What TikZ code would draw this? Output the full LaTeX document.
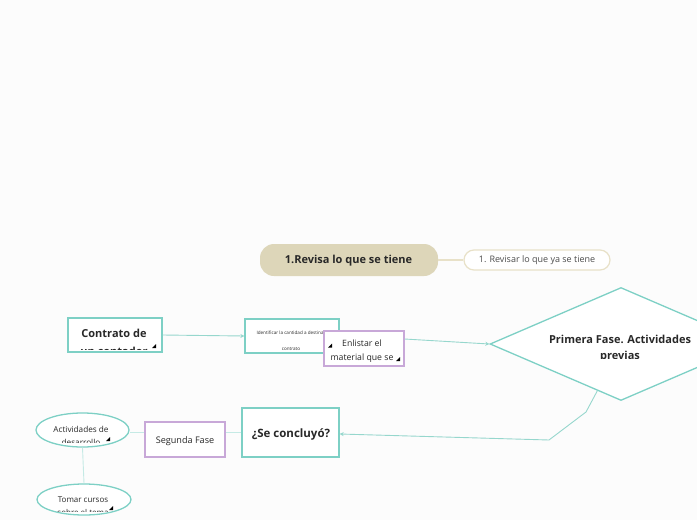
\documentclass[tikz,border=0pt]{standalone}
\usepackage{fontspec}
\setmainfont{Open Sans}
\usetikzlibrary{shapes.geometric,arrows.meta,calc}
\definecolor{tealc}{RGB}{125,208,197}
\definecolor{tealln}{RGB}{150,215,205}
\definecolor{purp}{RGB}{200,168,216}
\definecolor{beige}{RGB}{221,214,185}
\definecolor{beigeln}{RGB}{232,225,200}
\definecolor{bg}{RGB}{252,252,252}
\definecolor{txt}{RGB}{40,40,40}
\tikzset{
  boxt/.style={draw=tealc, line width=1.3pt, fill=white, rectangle, inner sep=0pt},
  boxp/.style={draw=purp, line width=1.3pt, fill=white, rectangle, inner sep=0pt},
  ell/.style={draw=tealc, line width=1.3pt, fill=white, ellipse, inner sep=0pt},
  lbl/.style={text=txt, align=center, inner sep=0pt},
  conn/.style={draw=tealln, line width=0.9pt},
  arr/.style={conn, -{Stealth[length=4pt,width=4pt]}},
  trimark/.style={fill=black},
}
\begin{document}
\begin{tikzpicture}[x=1pt,y=-1pt]
\useasboundingbox (0,0) rectangle (697,520);
\clip (0,0) rectangle (697,520);
\fill[bg] (0,0) rectangle (697,520);

% top nodes
\node[fill=beige, rounded corners=14pt, minimum width=178pt, minimum height=32pt, inner sep=0pt] (revisa) at (349,260) {};
\node[lbl, font=\bfseries\fontsize{11}{13}\selectfont] (revisaT) at (348.5,261) {1.Revisa lo que se tiene};
\node[draw=beigeln, line width=1.2pt, fill=white, rounded corners=10pt, minimum width=146pt, minimum height=20pt, inner sep=0pt] (revisar) at (537,260) {};
\node[lbl, font=\fontsize{9}{11}\selectfont, text=black!70] (revisarT) at (537,260.5) {1. Revisar lo que ya se tiene};
\draw[draw=beigeln, line width=1.2pt] (revisa.east) -- (revisar.west);

% diamond
\node[draw=tealc, line width=1.3pt, fill=white, diamond, aspect=2.32, minimum width=262pt, minimum height=113pt, inner sep=0pt] (fase1) at (621,344) {};
\begin{scope}
\clip (540,326) rectangle (697,358);
\node[lbl, font=\bfseries\fontsize{11}{16}\selectfont, anchor=north] (fase1T) at (620,334.5) {Primera Fase. Actividades\\previas};
\end{scope}

% contrato
\node[boxt, minimum width=94pt, minimum height=34pt] (contrato) at (115,335) {};
\begin{scope}
\clip (70,320) rectangle (160,349);
\node[lbl, font=\bfseries\fontsize{11}{18}\selectfont, anchor=north] (contratoT) at (114,328.5) {Contrato de\\un contador};
\end{scope}
\fill[trimark] (152,348) -- (156,348) -- (156,344) -- cycle;

% identificar
\node[boxt, minimum width=94pt, minimum height=34pt] (ident) at (292,336) {};
\begin{scope}
\clip (247,321) rectangle (337,351);
\node[lbl, font=\fontsize{4.6}{16}\selectfont, anchor=north] (identT) at (291,330.5) {Identificar la cantidad a destinar\\contrato};
\end{scope}
\draw[arr] (contrato.east) -- (ident.west);

% enlistar
\node[boxp, minimum width=80pt, minimum height=35pt] (enlistar) at (364,348.5) {};
\begin{scope}
\clip (326,333) rectangle (402,361.5);
\node[lbl, font=\fontsize{8.7}{14}\selectfont, anchor=north] (enlistarT) at (362,339.5) {Enlistar el\\material que se};
\end{scope}
\fill[trimark] (328,347.5) -- (332,347.5) -- (332,343.5) -- cycle;
\fill[trimark] (396,361) -- (400,361) -- (400,357) -- cycle;
\draw[arr] (enlistar.east |- 0,339) -- (fase1.west);

% se concluyo
\node[boxt, minimum width=97pt, minimum height=49pt] (concl) at (290.5,432.5) {};
\node[lbl, font=\bfseries\fontsize{11.5}{13}\selectfont] (conclT) at (291,434) {¿Se concluyó?};
\coordinate (k1) at ($(fase1.south)!0.18!(fase1.west)$);
\coordinate (k2) at (586,412);
\coordinate (k3) at (549,440);
\draw[arr] (k1) -- (k2) -- (k3) -- (concl.east |- 0,434);

% segunda fase
\node[boxp, minimum width=80pt, minimum height=35pt] (segunda) at (185,439.5) {};
\node[lbl, font=\fontsize{9.1}{11}\selectfont] (segundaT) at (185,441) {Segunda Fase};
\draw[conn, draw=tealc!45] (concl.west |- 0,432) -- (segunda.east |- 0,432);

% actividades
\node[ell, minimum width=93pt, minimum height=34pt] (activ) at (82.5,430) {};
\begin{scope}
\clip (36,417) rectangle (129,442);
\node[lbl, font=\fontsize{8.2}{13}\selectfont, anchor=north] (activT) at (81,426.5) {Actividades de\\desarrollo};
\end{scope}
\fill[trimark] (106,441) -- (110,441) -- (110,437) -- cycle;
\draw[conn, draw=tealc!45] (segunda.west |- 0,432) -- (activ.east |- 0,432);

% tomar cursos
\node[ell, minimum width=94pt, minimum height=31pt] (tomar) at (84,499.5) {};
\begin{scope}
\clip (38,487) rectangle (130,511);
\node[lbl, font=\fontsize{8}{13}\selectfont, anchor=north] (tomarT) at (83,496.5) {Tomar cursos\\sobre el tema};
\end{scope}
\fill[trimark] (109,510) -- (113,510) -- (113,506) -- cycle;
\draw[conn, draw=tealc!45] (activ.south) -- (tomar.north);
\end{tikzpicture}
\end{document}
